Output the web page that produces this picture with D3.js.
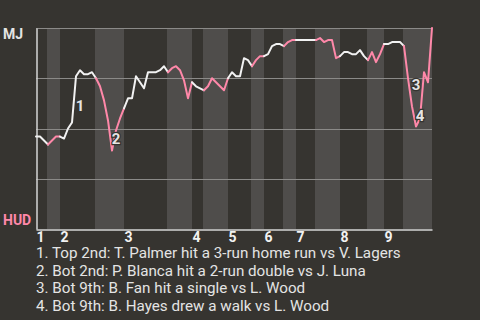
<!DOCTYPE html>
<html>
<head>
<meta charset="utf-8">
<script src="https://cdn.jsdelivr.net/npm/d3@7"></script>
<style>
  html, body { margin: 0; padding: 0; background: #363430; }
  svg { display: block; }
  text { font-family: Roboto, "Noto Sans", sans-serif; }
</style>
</head>
<body>
<svg id="chart" width="480" height="320"></svg>
<script>
// Teams: visitors on top of the scale, home team at the bottom
const awayTeam = "MJ";
const homeTeam = "HUD";

// Inning labels and the event index where each inning / bottom half begins
const innings = ["1", "2", "3", "4", "5", "6", "7", "8", "9"];
const inningStart = [0, 6, 22, 39, 48, 57, 65, 76, 87];
const bottomStart = [3, 15, 33, 42, 54, 62, 70, 83, 92];
const lastEvent = 99;

// MJ win probability (%) after each event
const winProb = [
  46, 46, 44, 42, 44, 46, 46, 45, 50, 53,
  76, 79, 77, 77, 78, 75, 71, 64, 54, 39,
  49, 55, 60, 65, 65, 76, 73, 70, 78, 78,
  78, 79, 81, 78, 80, 81, 79, 74, 65, 73,
  71, 70, 69, 71, 75, 73, 71, 69, 75, 78,
  76, 76, 85, 84, 81, 84, 86, 86, 87, 91,
  92, 92, 91, 93, 94, 94, 94, 94, 94, 94,
  94, 95, 93, 94, 94, 85, 86, 88, 88, 87,
  87, 89, 86, 84, 88, 83, 87, 92, 92, 93,
  93, 93, 91, 75, 61, 51, 55, 78, 73, 100
];

// Key plays: number, event index the play starts from, description
const playIds = [1, 2, 3, 4];
const playEvents = [9, 18, 93, 94];
const playTexts = [
  "Top 2nd: T. Palmer hit a 3-run home run vs V. Lagers",
  "Bot 2nd: P. Blanca hit a 2-run double vs J. Luna",
  "Bot 9th: B. Fan hit a single vs L. Wood",
  "Bot 9th: B. Hayes drew a walk vs L. Wood"
];

const gridValues = [25, 50, 75, 100];

const colors = {
  bg: "#363430",
  band: "#4f4d4b",
  grid: "#8b8a88",
  axis: "#d6d6d6",
  away: "#f2f2f2",
  home: "#ff88a9",
  text: "#e4e4e4",
  tick: "#f2f2f2"
};

const svg = d3.select("#chart");
svg.append("rect").attr("width", 480).attr("height", 320).attr("fill", colors.bg);

const plotLeft = 36, plotRight = 432, plotTop = 28, plotBottom = 229;
const x = d3.scaleLinear().domain([0, lastEvent]).range([plotLeft, plotRight]);
const y = d3.scaleLinear().domain([0, 100]).range([plotBottom, plotTop]);

// Shaded bottom halves of each inning
const halfEnds = inningStart.slice(1).concat([lastEvent]);
svg.append("g").selectAll("rect")
  .data(bottomStart)
  .join("rect")
  .attr("x", (d) => x(d) - 1)
  .attr("y", plotTop)
  .attr("width", (d, i) => x(halfEnds[i]) - x(d) + 1)
  .attr("height", plotBottom - plotTop)
  .attr("fill", colors.band);

// Horizontal grid lines
svg.append("g").selectAll("line")
  .data(gridValues)
  .join("line")
  .attr("x1", plotLeft).attr("x2", plotRight)
  .attr("y1", (d) => Math.round(y(d)) + 0.5)
  .attr("y2", (d) => Math.round(y(d)) + 0.5)
  .attr("stroke", colors.grid)
  .attr("stroke-width", 1);

// Left axis line
const yAxis = svg.append("g")
  .attr("transform", `translate(${plotLeft + 0.5},0)`)
  .call(d3.axisLeft(y).tickValues([]).tickSizeOuter(0));
yAxis.select(".domain").attr("stroke", colors.axis).attr("stroke-width", 1.5);

// Bottom axis with inning numbers at the start of each inning
const xAxis = svg.append("g")
  .attr("transform", `translate(0,${plotBottom + 0.5})`)
  .call(d3.axisBottom(x)
    .tickValues(inningStart)
    .tickFormat((d, i) => innings[i])
    .tickSize(0)
    .tickSizeOuter(0)
    .tickPadding(3));
xAxis.select(".domain").attr("stroke", colors.axis).attr("stroke-width", 1.5);
xAxis.selectAll(".tick text")
  .attr("text-anchor", "start")
  .attr("fill", colors.tick)
  .attr("font-family", "Roboto, sans-serif")
  .attr("font-size", 14)
  .attr("font-weight", "bold");

// Win probability line, one piece per half inning
const halves = [];
inningStart.forEach((s, i) => {
  halves.push({ from: s, to: bottomStart[i], home: false });
  halves.push({ from: bottomStart[i], to: halfEnds[i], home: true });
});
const line = d3.line()
  .x((d) => x(d))
  .y((d) => y(winProb[d]));
svg.append("g").selectAll("path")
  .data(halves)
  .join("path")
  .attr("d", (h) => line(d3.range(h.from, h.to + 1)))
  .attr("fill", "none")
  .attr("stroke", (h) => h.home ? colors.home : colors.away)
  .attr("stroke-width", 2)
  .attr("stroke-linejoin", "round")
  .attr("stroke-linecap", "round");

// Numbered markers next to the key plays
const labelNudge = [7, 3, -7, 0];
svg.append("g").selectAll("text")
  .data(playIds)
  .join("text")
  .attr("x", (d, i) => x(playEvents[i] + 0.5) + 6)
  .attr("y", (d, i) => y((winProb[playEvents[i]] + winProb[playEvents[i] + 1]) / 2) + labelNudge[i])
  .attr("text-anchor", "middle")
  .attr("dominant-baseline", "central")
  .attr("font-size", 15)
  .attr("font-weight", "bold")
  .attr("fill", colors.text)
  .attr("stroke", colors.bg)
  .attr("stroke-width", 2.5)
  .attr("paint-order", "stroke")
  .text((d) => d);

// Team labels at the two ends of the scale
svg.append("text")
  .attr("x", 3).attr("y", y(100) + 6)
  .attr("dominant-baseline", "central")
  .attr("font-size", 14).attr("font-weight", "bold")
  .attr("fill", colors.text)
  .text(awayTeam);
svg.append("text")
  .attr("x", 3).attr("y", y(0) - 9)
  .attr("dominant-baseline", "central")
  .attr("font-size", 14).attr("font-weight", "bold")
  .attr("fill", colors.home)
  .text(homeTeam);

// Play descriptions below the chart
svg.append("g").selectAll("text")
  .data(playIds)
  .join("text")
  .attr("x", plotLeft)
  .attr("y", (d, i) => 258 + i * 17.6)
  .attr("font-size", 15.2)
  .attr("fill", colors.text)
  .text((d, i) => `${d}. ${playTexts[i]}`);
</script>
</body>
</html>
